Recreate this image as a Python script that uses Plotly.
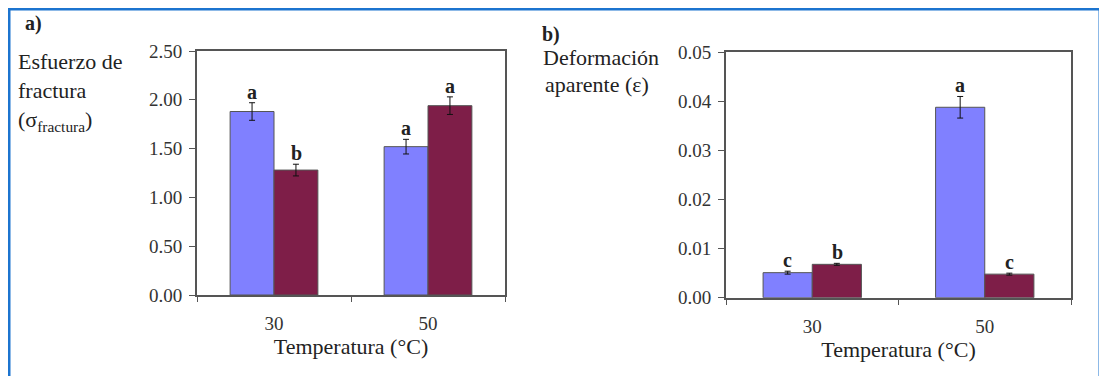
import plotly.graph_objects as go

# ---- data ----
categories = ["30", "50"]
a_blue = [1.88, 1.52]
a_blue_err = [0.09, 0.075]
a_red = [1.28, 1.94]
a_red_err = [0.06, 0.09]
a_blue_letters = ["a", "a"]
a_red_letters = ["b", "a"]

b_blue = [0.0051, 0.0388]
b_blue_err = [0.0003, 0.0022]
b_red = [0.0068, 0.0048]
b_red_err = [0.0002, 0.0002]
b_blue_letters = ["c", "a"]
b_red_letters = ["b", "c"]

a_ticks = [0.0, 0.5, 1.0, 1.5, 2.0, 2.5]
b_ticks = [0.0, 0.01, 0.02, 0.03, 0.04, 0.05]

BLUE = "#8080FF"
RED = "#7E1E48"
FONT = "Liberation Serif"
W, H = 1107, 376
OX, OY = 8, 8  # page body margin offset


def px(x):
    return (x - OX) / W


def py(y):
    return 1 - (y - OY) / H


fig = go.Figure()


def add_pair(xa, ya, blue, berr, red, rerr):
    fig.add_trace(go.Bar(x=categories, y=blue, xaxis=xa, yaxis=ya,
                         marker=dict(color=BLUE, line=dict(color="#555", width=1)),
                         error_y=dict(type="data", array=berr, color="#111", thickness=1, width=3),
                         showlegend=False))
    fig.add_trace(go.Bar(x=categories, y=red, xaxis=xa, yaxis=ya,
                         marker=dict(color=RED, line=dict(color="#555", width=1)),
                         error_y=dict(type="data", array=rerr, color="#111", thickness=1, width=3),
                         showlegend=False))


add_pair("x", "y", a_blue, a_blue_err, a_red, a_red_err)
add_pair("x2", "y2", b_blue, b_blue_err, b_red, b_red_err)

axis_common = dict(showline=True, linecolor="#555", linewidth=2, mirror=True, automargin=False,
                   showgrid=False, zeroline=False, ticks="outside", tickcolor="#555",
                   tickfont=dict(family=FONT, size=19, color="#333"))
xtitle_font = dict(family=FONT, size=22, color="#222")

fig.update_layout(
    width=W, height=H, margin=dict(l=0, r=0, t=0, b=0),
    paper_bgcolor="white", plot_bgcolor="white",
    barmode="group", bargap=0.43, bargroupgap=0,
    font=dict(family=FONT, color="#222"),
    xaxis=dict(domain=[px(197), px(505)], anchor="y", type="category", tickson="boundaries",
               ticklen=5, range=[-0.5, 1.5], ticklabelstandoff=10,
               title=dict(text="Temperatura (°C)", font=xtitle_font, standoff=6),
               **axis_common),
    yaxis=dict(domain=[py(295), py(51)], anchor="x", range=[0, 2.5], tickvals=a_ticks,
               tickformat=".2f", ticklen=6, ticklabelstandoff=3, **axis_common),
    xaxis2=dict(domain=[px(726), px(1071)], anchor="y2", type="category", tickson="boundaries",
                ticklen=5, range=[-0.5, 1.5], ticklabelstandoff=10,
                title=dict(text="Temperatura (°C)", font=xtitle_font, standoff=6),
                **axis_common),
    yaxis2=dict(domain=[py(297.7), py(52.3)], anchor="x2", range=[0, 0.05], tickvals=b_ticks,
                tickformat=".2f", ticklen=6, ticklabelstandoff=3, **axis_common),
)


# significance letters
def add_letters(xa, ya, vals, errs, letters, offset):
    for i, (v, e, t) in enumerate(zip(vals, errs, letters)):
        fig.add_annotation(x=i, y=v + e, xref=xa, yref=ya, text=f"<b>{t}</b>",
                           showarrow=False, yanchor="bottom", xshift=offset, yshift=-2,
                           font=dict(family=FONT, size=20, color="#222"))


add_letters("x", "y", a_blue, a_blue_err, a_blue_letters, -22)
add_letters("x", "y", a_red, a_red_err, a_red_letters, 22)
add_letters("x2", "y2", b_blue, b_blue_err, b_blue_letters, -25)
add_letters("x2", "y2", b_red, b_red_err, b_red_letters, 25)


# panel labels & y-axis titles
def txt(x, y, s, size=18, bold=False):
    fig.add_annotation(x=px(x), y=py(y), xref="paper", yref="paper", xanchor="left", yanchor="middle",
                       text=(f"<b>{s}</b>" if bold else s), showarrow=False,
                       font=dict(family=FONT, size=size, color="#222"))


txt(23, 24, "a)", 20, True)
txt(16, 62, "Esfuerzo de", 22)
txt(16, 91, "fractura", 22)
txt(16, 121, "(σ<sub>fractura</sub>)", 22)
txt(540, 35, "b)", 20, True)
txt(541, 57, "Deformación", 22)
txt(543, 85, "aparente (ε)", 22)

# blue outer frame
fig.add_shape(type="path", xref="paper", yref="paper",
              path=f"M {px(9)},-0.1 L {px(9)},{py(9)} L {px(1100)},{py(9)} L {px(1100)},-0.1",
              line=dict(color="#1C74CF", width=3))

fig.write_html("out.html")
